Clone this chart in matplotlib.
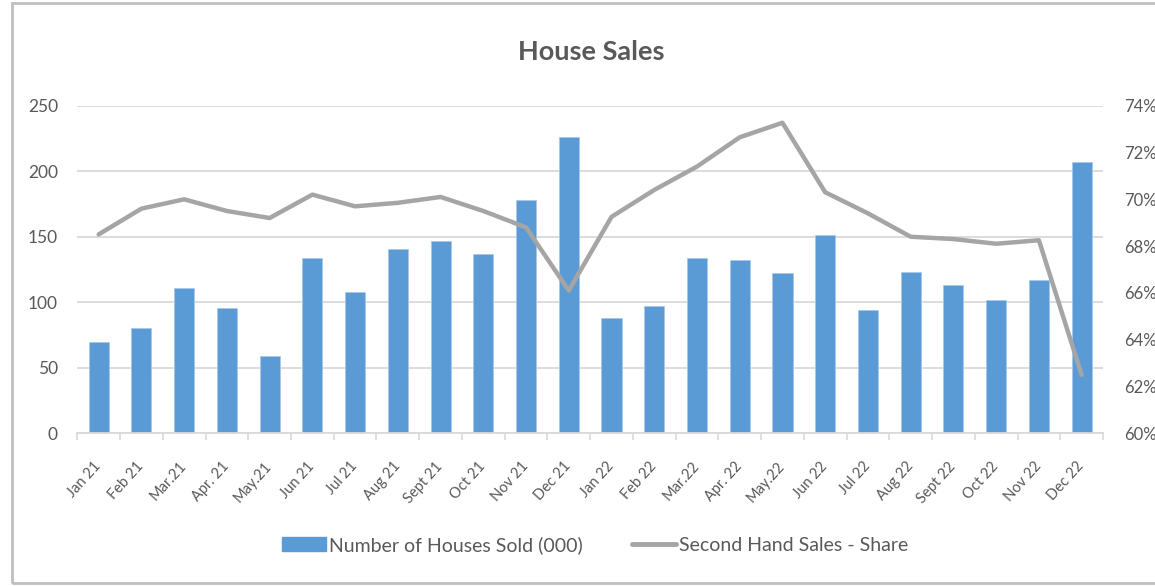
import matplotlib.pyplot as plt
from matplotlib.patches import Rectangle
from matplotlib.lines import Line2D
from matplotlib.ticker import FuncFormatter
import numpy as np

plt.rcParams['font.family'] = ['Lato', 'DejaVu Sans']

months = ["Jan 21", "Feb 21", "Mar.21", "Apr. 21", "May.21", "Jun 21", "Jul 21",
          "Aug 21", "Sept 21", "Oct 21", "Nov 21", "Dec 21", "Jan 22", "Feb 22",
          "Mar.22", "Apr. 22", "May.22", "Jun 22", "Jul 22", "Aug 22", "Sept 22",
          "Oct 22", "Nov 22", "Dec 22"]
houses_sold = [70, 80, 111, 96, 59, 134, 108, 141, 147, 137, 178, 226,
               88, 97, 134, 132, 122, 151, 94, 123, 113, 102, 117, 207]
second_hand_share = [68.5, 69.6, 70.0, 69.5, 69.2, 70.2, 69.7, 69.85, 70.1, 69.5,
                     68.8, 66.1, 69.25, 70.4, 71.4, 72.65, 73.27, 70.3, 69.4, 68.4,
                     68.3, 68.1, 68.25, 62.5]

txt = '#595959'
grid = '#D9D9D9'

fig = plt.figure(figsize=(11.55, 5.86), dpi=100)
fig.patches.append(Rectangle((12 / 1155, 3 / 586), 1.2, 580 / 586, transform=fig.transFigure,
                             fill=False, edgecolor='#BFBFBF', linewidth=2))

ax = fig.add_axes([77.3 / 1155, 1 - 433.3 / 586, (1103 - 77.3) / 1155, (433.3 - 105.7) / 586])
x = np.arange(len(months))
ax.bar(x, houses_sold, width=0.47, color='#5B9BD5', edgecolor='#A9C8EA', linewidth=0.6, zorder=2)
ax.set_ylim(0, 250)
ax.set_yticks(range(0, 251, 50))
ax.set_xlim(-0.5, len(months) - 0.5)
ax.set_xticks(x)
ax.set_xticklabels(months, rotation=48, ha='right', va='center', rotation_mode='anchor',
                   fontsize=10.5, color=txt)
ax.set_xticks(np.arange(-0.5, len(months), 1), minor=True)
ax.tick_params(axis='x', which='major', length=0, pad=22)
ax.tick_params(axis='x', which='minor', length=5, color=grid, width=1.2)
ax.tick_params(axis='y', length=0, labelsize=12.5, labelcolor=txt, pad=14)
ax.yaxis.grid(True, color=grid, linewidth=1.3, zorder=0)
ax.set_axisbelow(True)
for s in ['top', 'left', 'right']:
    ax.spines[s].set_visible(False)
ax.spines['bottom'].set_color(grid)
ax.spines['bottom'].set_linewidth(1.3)

ax2 = ax.twinx()
ax2.plot(x, second_hand_share, color='#A5A5A5', linewidth=3.2, solid_capstyle='round', zorder=3)
ax2.set_ylim(60, 74)
ax2.set_yticks(range(60, 75, 2))
ax2.yaxis.set_major_formatter(FuncFormatter(lambda v, p: f"{v:.0f}%"))
ax2.tick_params(axis='y', length=0, labelsize=12, labelcolor=txt, pad=15)
for s in ['top', 'left', 'right', 'bottom']:
    ax2.spines[s].set_visible(False)

fig.text(591 / 1155, 1 - 52 / 586, "House Sales", ha='center', va='center',
         fontsize=19.5, fontweight='bold', color=txt)

handles = [Rectangle((0, 0), 1, 1, color='#5B9BD5'),
           Line2D([0], [0], color='#A5A5A5', linewidth=3.5, solid_capstyle='round')]
fig.legend(handles, ["Number of Houses Sold (000)", "Second Hand Sales - Share"],
           loc='center', bbox_to_anchor=(595 / 1155, 1 - 545 / 586), ncol=2, frameon=False,
           fontsize=14, labelcolor=txt, handlelength=2.3, handletextpad=0.15, columnspacing=2.5)

fig.savefig('out.png', dpi=100)
